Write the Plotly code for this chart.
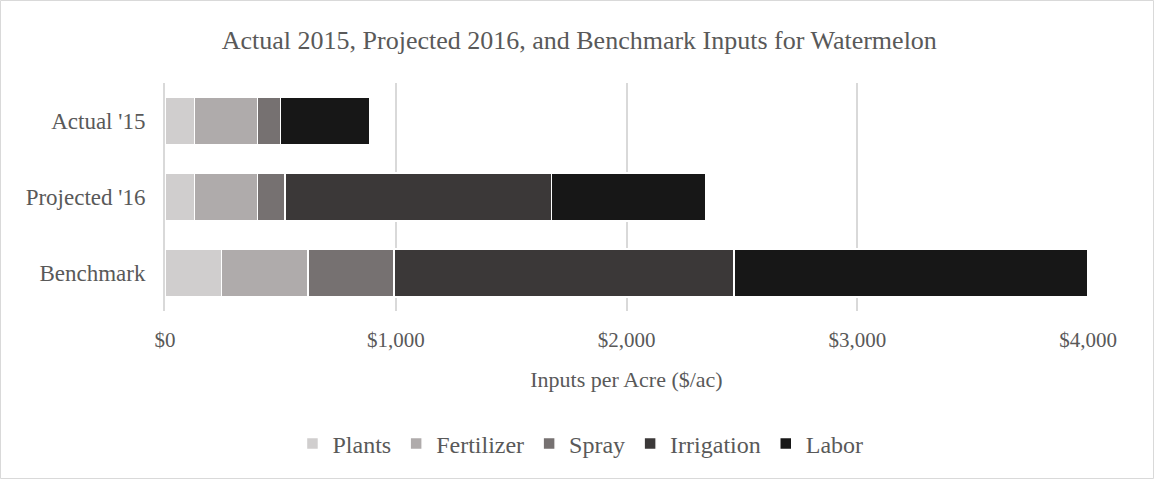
import plotly.graph_objects as go

categories = ["Actual '15", "Projected '16", "Benchmark"]
series_names = ["Plants", "Fertilizer", "Spray", "Irrigation", "Labor"]
plants = [127, 127, 245]
fertilizer = [273, 273, 375]
spray = [100, 121, 372]
irrigation = [0, 1155, 1474]
labor = [387, 668, 1534]
colors = ["#d0cece", "#afabab", "#767171", "#3b3838", "#171717"]
x_ticks = [0, 1000, 2000, 3000, 4000]
x_tick_labels = ["$0", "$1,000", "$2,000", "$3,000", "$4,000"]

W, H = 1154, 479
ml, mr, mt, mb = 165, 66, 83, 168
pw, ph = W - ml - mr, H - mt - mb

fig = go.Figure()
for name, vals, col in zip(series_names, [plants, fertilizer, spray, irrigation, labor], colors):
    fig.add_trace(go.Bar(
        y=categories, x=vals, name=name, orientation="h",
        marker=dict(color=col, line=dict(color="#ffffff", width=1.5)),
    ))

font_family = "Liberation Serif, Times New Roman, serif"
txt = "#595959"

fig.update_layout(
    width=W, height=H,
    barmode="stack", bargap=0.368,
    margin=dict(l=ml, r=mr, t=mt, b=mb, autoexpand=False),
    paper_bgcolor="#ffffff", plot_bgcolor="#ffffff",
    font=dict(family=font_family, color=txt),
    title=dict(text="Actual 2015, Projected 2016, and Benchmark Inputs for Watermelon",
               x=0.502, xref="container", xanchor="center",
               y=1 - 40 / H, yref="container", yanchor="middle",
               font=dict(size=26, color=txt, family=font_family)),
    xaxis=dict(range=[0, 4000], tickmode="array", tickvals=x_ticks, ticktext=x_tick_labels,
               showgrid=True, gridcolor="#d9d9d9", gridwidth=1.5, zeroline=False,
               showline=False, ticks="", ticklabelstandoff=14,
               tickfont=dict(size=21, color=txt),
               title=dict(text="Inputs per Acre ($/ac)", standoff=20,
                          font=dict(size=22, color=txt)),
               fixedrange=True),
    yaxis=dict(categoryorder="array", categoryarray=categories, autorange="reversed",
               showgrid=False, zeroline=False, showline=True, linecolor="#d9d9d9",
               linewidth=2, ticks="",
               ticklabelstandoff=13, tickfont=dict(size=23, color=txt),
               fixedrange=True),
    legend=dict(orientation="h", xref="container", x=0.503, xanchor="center",
                yref="container", y=1 - 444 / H, yanchor="middle",
                font=dict(size=24, color=txt), traceorder="normal",
                itemclick=False, itemdoubleclick=False),
    showlegend=True,
)

# outer chart border
fig.add_shape(type="rect", xref="paper", yref="paper",
              x0=(0.5 - ml) / pw, x1=(W - 0.5 - ml) / pw,
              y0=(H - mb - (H - 0.5)) / ph, y1=(H - mb - 0.5) / ph,
              line=dict(color="#d9d9d9", width=1), fillcolor="rgba(0,0,0,0)", layer="below")

fig.write_html("out.html", config={"displayModeBar": False},
               post_script="document.body.style.margin='0px';")
